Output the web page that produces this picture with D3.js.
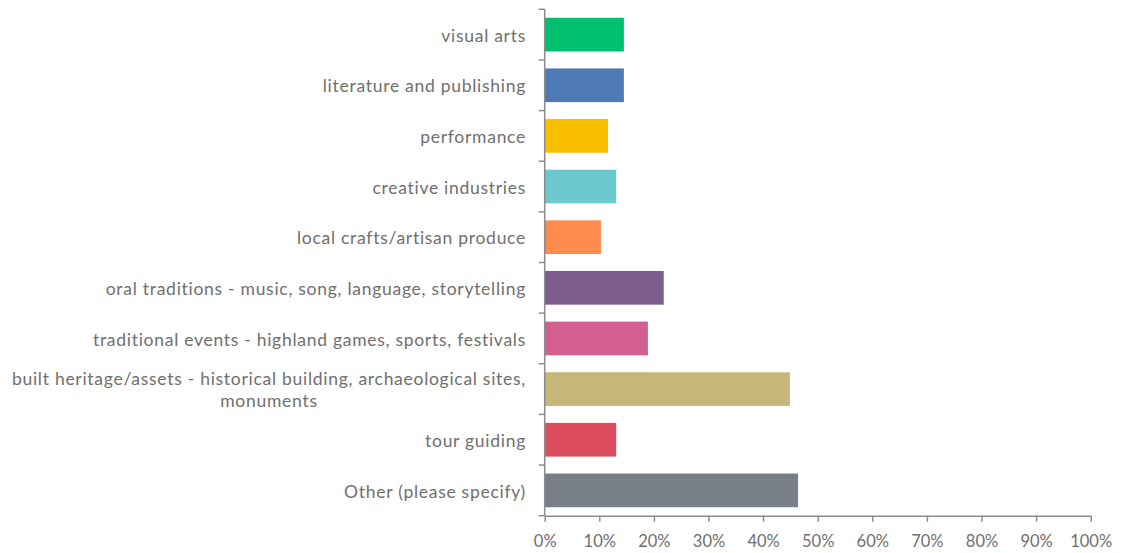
<!DOCTYPE html>
<html>
<head>
<meta charset="utf-8">
<script src="https://cdn.jsdelivr.net/npm/d3@7"></script>
<style>
  body { margin: 0; background: #fff; }
  svg text { font-family: "Lato", "Liberation Sans", sans-serif; fill: #6f6f6f; }
</style>
</head>
<body>
<svg id="chart" width="1124" height="553"></svg>
<script>
// Survey responses: share of respondents per heritage category
const categories = [
  ["visual arts"],
  ["literature and publishing"],
  ["performance"],
  ["creative industries"],
  ["local crafts/artisan produce"],
  ["oral traditions - music, song, language, storytelling"],
  ["traditional events - highland games, sports, festivals"],
  ["built heritage/assets - historical building, archaeological sites,", "monuments"],
  ["tour guiding"],
  ["Other (please specify)"]
];
const values = [14.5, 14.5, 11.6, 13.1, 10.3, 21.8, 18.9, 44.9, 13.1, 46.4];
const colors = ["#00BF6F", "#4E7AB4", "#F8BE00", "#6BC8CD", "#FF8B4F",
                "#7D5C8E", "#D25F90", "#C7B679", "#DB4D5C", "#787F87"];
const tickValues = [0, 10, 20, 30, 40, 50, 60, 70, 80, 90, 100];

const svg = d3.select("#chart");
const plotLeft = 544.7, plotRight = 1090.7, plotTop = 9.3, plotBottom = 515.7;

const x = d3.scaleLinear().domain([0, 100]).range([plotLeft, plotRight]);
const y = d3.scaleBand().domain(d3.range(categories.length)).range([plotTop, plotBottom])
  .paddingInner(0.335).paddingOuter(0.1675);

// bars
svg.append("g").selectAll("rect").data(values).join("rect")
  .attr("x", x(0))
  .attr("y", (d, i) => y(i))
  .attr("width", d => x(d) - x(0))
  .attr("height", y.bandwidth())
  .attr("fill", (d, i) => colors[i]);

const axisColor = "#8c8c8c";

// bottom axis
const xAxis = svg.append("g")
  .attr("transform", `translate(0,${plotBottom})`)
  .call(d3.axisBottom(x).tickValues(tickValues).tickFormat(d => d + "%").tickSize(6).tickSizeOuter(0).tickPadding(14));
xAxis.select(".domain").attr("stroke", axisColor).attr("stroke-width", 1.5);
xAxis.selectAll(".tick line").attr("stroke", axisColor).attr("stroke-width", 1.5);
xAxis.selectAll(".tick text").attr("font-size", 16.5).attr("fill", "#6f6f6f")
  .style("font-family", "Lato, 'Liberation Sans', sans-serif");

// left axis: vertical line with category-boundary ticks
const yLine = svg.append("g");
yLine.append("line").attr("x1", plotLeft).attr("x2", plotLeft).attr("y1", plotTop).attr("y2", plotBottom)
  .attr("stroke", axisColor).attr("stroke-width", 1.5);
const step = y.step();
yLine.selectAll("line.tk").data(d3.range(categories.length + 1)).join("line")
  .attr("class", "tk")
  .attr("x1", plotLeft - 6).attr("x2", plotLeft)
  .attr("y1", i => plotTop + i * step).attr("y2", i => plotTop + i * step)
  .attr("stroke", axisColor).attr("stroke-width", 1.5);

// category labels, right-aligned; wrapped lines centred on each other
const labelRight = 526;
const lineH = 22;
const lbl = svg.append("g").attr("font-size", 17.5).attr("letter-spacing", "0.72px");
categories.forEach((lines, i) => {
  const cy = y(i) + y.bandwidth() / 2 + 1;
  const g = lbl.append("g");
  if (lines.length === 1) {
    g.append("text").attr("x", labelRight).attr("y", cy).attr("dy", "0.35em")
      .attr("text-anchor", "end").text(lines[0]);
  } else {
    const t0 = g.append("text").attr("x", labelRight).attr("y", cy - lineH / 2).attr("dy", "0.35em")
      .attr("text-anchor", "end").text(lines[0]);
    const w = t0.node().getComputedTextLength();
    g.append("text").attr("x", labelRight - w / 2).attr("y", cy + lineH / 2).attr("dy", "0.35em")
      .attr("text-anchor", "middle").text(lines[1]);
  }
});
</script>
</body>
</html>
